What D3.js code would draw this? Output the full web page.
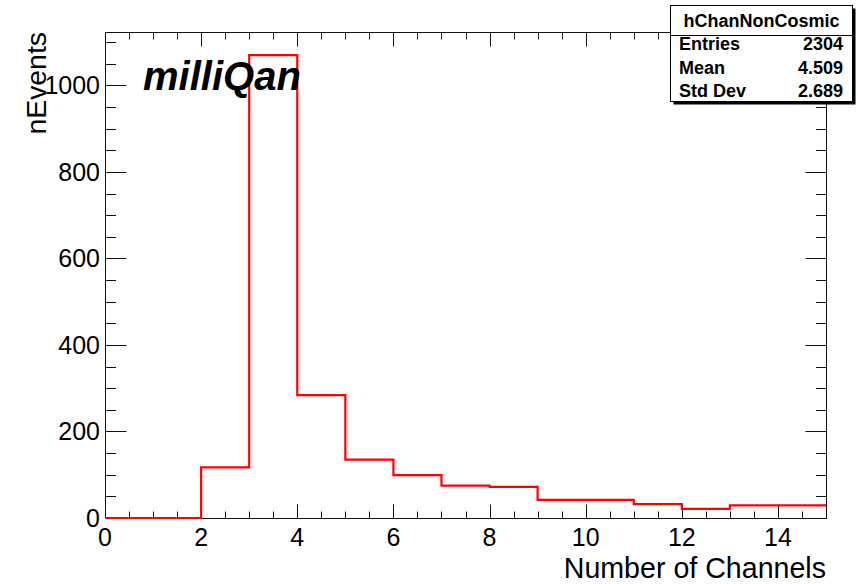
<!DOCTYPE html>
<html>
<head>
<meta charset="utf-8">
<script src="https://cdn.jsdelivr.net/npm/d3@7"></script>
<style>
  html, body { margin: 0; padding: 0; background: #fff; }
  svg { display: block; }
  text { font-family: "Liberation Sans", Arial, Helvetica, sans-serif; fill: #000; }
</style>
</head>
<body>
<svg id="chart" width="858" height="584"></svg>
<script>
// Histogram of channel multiplicity, unit-width bins from 0 to 15
const binEdges = [0, 1, 2, 3, 4, 5, 6, 7, 8, 9, 10, 11, 12, 13, 14, 15];
const binCounts = [0, 0, 117, 1070, 284, 135, 99, 75, 72, 42, 42, 32, 21, 29, 29];

const xTicks = [0, 2, 4, 6, 8, 10, 12, 14];
const yTicks = [0, 200, 400, 600, 800, 1000];

const histName = "hChanNonCosmic";
const statLabels = ["Entries", "Mean", "Std Dev"];
const statValues = ["2304", "4.509", "2.689"];

const xTitle = "Number of Channels";
const yTitle = "nEvents";
const tagText = "milliQan";

const svg = d3.select("#chart");
const L = 105, R = 826, T = 32, B = 518;

const yMax = d3.max(binCounts) * 1.05;
const x = d3.scaleLinear().domain([0, 15]).range([L, R]);
const y = d3.scaleLinear().domain([0, yMax]).range([B, T]);

const frame = svg.append("g");
frame.append("rect")
  .attr("x", L + 0.5).attr("y", T + 0.5)
  .attr("width", R - L).attr("height", B - T)
  .attr("fill", "none").attr("stroke", "#111").attr("stroke-width", 1);

// tick marks on all four sides
const xMinor = d3.range(0, 15.001, 0.5);
const yMinor = d3.range(0, yMax, 50);
const tickG = frame.append("g").attr("stroke", "#111").attr("stroke-width", 1);
xMinor.forEach(v => {
  const major = Math.abs(v / 2 - Math.round(v / 2)) < 1e-6;
  const len = major ? 14 : 7;
  const px = Math.round(x(v)) + 0.5;
  tickG.append("line").attr("x1", px).attr("x2", px).attr("y1", B + 0.5).attr("y2", B + 0.5 - len);
  tickG.append("line").attr("x1", px).attr("x2", px).attr("y1", T + 0.5).attr("y2", T + 0.5 + len);
});
yMinor.forEach(v => {
  const major = v % 200 === 0;
  const len = major ? 21 : 10.5;
  const py = Math.round(y(v)) + 0.5;
  tickG.append("line").attr("x1", L + 0.5).attr("x2", L + 0.5 + len).attr("y1", py).attr("y2", py);
  tickG.append("line").attr("x1", R + 0.5).attr("x2", R + 0.5 - len).attr("y1", py).attr("y2", py);
});

// tick labels
svg.append("g").selectAll("text").data(xTicks).join("text")
  .attr("x", d => x(d)).attr("y", 546)
  .attr("text-anchor", "middle")
  .attr("font-size", 25)
  .text(d => d);
svg.append("g").selectAll("text").data(yTicks).join("text")
  .attr("x", 100).attr("y", d => y(d) + 9)
  .attr("text-anchor", "end")
  .attr("font-size", 25)
  .text(d => d);

// axis titles
svg.append("text")
  .attr("x", R).attr("y", 578)
  .attr("text-anchor", "end")
  .attr("font-size", 28.6)
  .text(xTitle);
svg.append("text")
  .attr("transform", `translate(46,${T}) rotate(-90)`)
  .attr("text-anchor", "end")
  .attr("font-size", 28.4)
  .text(yTitle);

// histogram outline
const pts = [];
binCounts.forEach((c, i) => {
  pts.push([x(binEdges[i]), y(c)]);
  pts.push([x(binEdges[i + 1]), y(c)]);
});
svg.append("path")
  .attr("d", d3.line()(pts))
  .attr("fill", "none")
  .attr("stroke", "#ff0000")
  .attr("stroke-width", 2.2)
  .attr("stroke-linejoin", "miter");

// experiment tag
svg.append("text")
  .attr("x", 143).attr("y", 90)
  .attr("font-size", 40)
  .attr("font-weight", "bold")
  .attr("font-style", "italic")
  .text(tagText);

// statistics box
const bx = 670.5, by = 5.5, bw = 182, bh = 96;
const stats = svg.append("g");
stats.append("rect").attr("x", bx + 3).attr("y", by + 3).attr("width", bw).attr("height", bh).attr("fill", "#000");
stats.append("rect").attr("x", bx).attr("y", by).attr("width", bw).attr("height", bh)
  .attr("fill", "#fff").attr("stroke", "#000").attr("stroke-width", 1);
stats.append("line").attr("x1", bx).attr("x2", bx + bw).attr("y1", 35.5).attr("y2", 35.5)
  .attr("stroke", "#000").attr("stroke-width", 1);
stats.append("text")
  .attr("x", bx + bw / 2).attr("y", 27)
  .attr("text-anchor", "middle")
  .attr("font-size", 18).attr("font-weight", "bold")
  .text(histName);
const rowY = [50, 74, 97];
statLabels.forEach((lab, i) => {
  stats.append("text").attr("x", 679).attr("y", rowY[i])
    .attr("font-size", 18).attr("font-weight", "bold").text(lab);
  stats.append("text").attr("x", 843).attr("y", rowY[i])
    .attr("text-anchor", "end")
    .attr("font-size", 18).attr("font-weight", "bold").text(statValues[i]);
});
</script>
</body>
</html>
